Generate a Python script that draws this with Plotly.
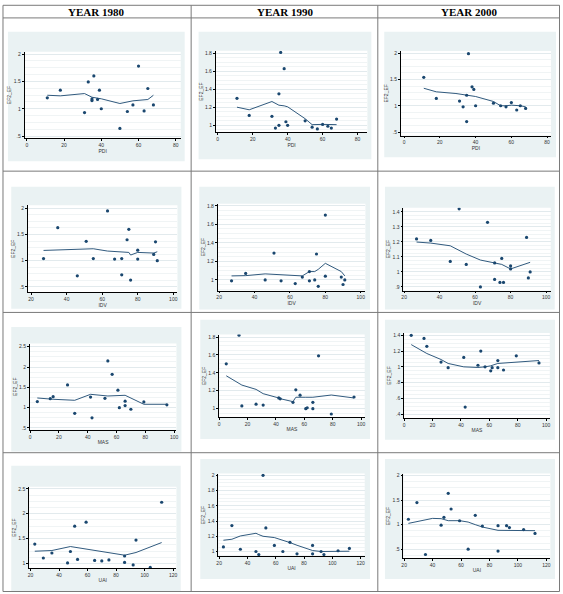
import numpy as np
import plotly.graph_objects as go

W, H = 563, 594
NAVY = "#1a476f"
BG = "#eaf2f3"

# ---------------- data ----------------
years = ["YEAR 1980", "YEAR 1990", "YEAR 2000"]
y_title = "EF2_EF"

pdi = [11, 18, 31, 33, 35, 35, 36, 38, 39, 40, 50, 54, 57, 60, 63, 65, 68]
idv = [27, 35, 46, 51, 55, 63, 67, 71, 71, 74, 75, 76, 80, 80, 89, 90, 91]
mas = [5, 14, 16, 26, 31, 42, 43, 52, 54, 57, 61, 62, 66, 66, 70, 79, 95]
uai = [23, 29, 35, 46, 48, 51, 53, 59, 65, 70, 75, 86, 86, 92, 94, 104, 112]

ef_pdi_1980 = [1.20, 1.34, 0.93, 1.49, 1.15, 1.18, 1.60, 1.17, 1.34, 1.00, 0.64, 0.95, 1.07, 1.78, 0.96, 1.37, 1.07]
ef_pdi_1990 = [1.30, 1.11, 1.10, 0.97, 1.00, 1.35, 1.81, 1.63, 1.04, 1.00, 1.05, 0.98, 0.96, 1.01, 0.99, 0.97, 1.07]
ef_pdi_2000 = [1.54, 1.14, 1.09, 0.98, 1.20, 0.70, 1.99, 1.36, 1.31, 1.00, 1.05, 1.00, 0.98, 1.06, 0.92, 1.00, 0.95]

ef_idv_1980 = [1.04, 1.63, 0.71, 1.37, 1.04, 1.95, 1.03, 1.04, 0.73, 1.40, 1.60, 0.63, 1.20, 1.03, 1.12, 1.36, 1.00]
ef_idv_1990 = [0.99, 1.07, 1.00, 1.29, 0.99, 0.96, 1.03, 1.09, 0.99, 1.00, 1.28, 0.93, 1.70, 1.04, 1.03, 0.95, 1.00]
ef_idv_2000 = [1.22, 1.21, 1.07, 1.42, 1.05, 0.90, 1.33, 1.06, 0.95, 0.93, 1.09, 0.93, 1.04, 1.02, 1.23, 0.96, 1.00]

ef_mas_1980 = [1.15, 1.22, 1.27, 1.56, 0.86, 1.26, 0.75, 1.23, 2.15, 1.82, 1.43, 1.00, 1.16, 1.05, 0.96, 1.14, 1.07]
ef_mas_1990 = [1.50, 1.82, 1.03, 1.05, 1.04, 1.12, 1.11, 1.07, 1.21, 1.15, 1.00, 1.01, 1.07, 1.00, 1.59, 0.94, 1.13]
ef_mas_2000 = [1.40, 1.36, 1.26, 1.06, 0.99, 1.12, 0.49, 1.02, 1.20, 1.00, 0.95, 0.99, 1.08, 0.99, 0.96, 1.14, 1.05]

ef_uai_1980 = [1.39, 1.11, 1.21, 1.01, 1.24, 1.75, 1.08, 1.83, 1.06, 1.05, 1.07, 1.15, 1.02, 0.97, 1.47, 0.92, 2.23]
ef_uai_1990 = [1.06, 1.34, 1.03, 1.00, 0.96, 2.00, 1.31, 1.08, 1.00, 1.12, 0.97, 1.08, 0.97, 1.00, 0.96, 1.01, 1.04]
ef_uai_2000 = [1.11, 1.45, 0.39, 0.99, 1.15, 1.64, 1.32, 1.08, 0.50, 1.19, 0.97, 0.98, 0.46, 0.98, 0.94, 0.90, 0.82]

# lowess curves
lw_pdi_1980_x = [11, 18, 31, 35, 40, 50, 57, 65, 68]
lw_pdi_1980_y = [1.247, 1.236, 1.278, 1.211, 1.182, 1.096, 1.145, 1.169, 1.247]
lw_pdi_1990_x = [11, 18, 31, 35, 38, 40, 50, 54, 60, 68]
lw_pdi_1990_y = [1.202, 1.173, 1.265, 1.224, 1.217, 1.206, 1.074, 1.008, 1.011, 1.008]
lw_pdi_2000_x = [11, 18, 29, 35, 40, 50, 54, 57, 60, 65, 68]
lw_pdi_2000_y = [1.333, 1.265, 1.233, 1.195, 1.176, 1.081, 1.0, 1.0, 1.012, 1.0, 0.98]

lw_idv_1980_x = [27, 35, 46, 55, 63, 71, 75, 76, 80, 89, 91]
lw_idv_1980_y = [1.196, 1.203, 1.215, 1.228, 1.184, 1.165, 1.158, 1.108, 1.158, 1.146, 1.171]
lw_idv_1990_x = [27, 35, 46, 55, 67, 71, 74, 76, 80, 89, 91]
lw_idv_1990_y = [1.043, 1.046, 1.065, 1.054, 1.043, 1.09, 1.09, 1.114, 1.179, 1.09, 1.043]
lw_idv_2000_x = [27, 35, 46, 55, 63, 71, 75, 80, 91]
lw_idv_2000_y = [1.199, 1.192, 1.174, 1.119, 1.079, 1.062, 1.05, 1.02, 1.064]

lw_mas_1980_x = [5, 16, 31, 42, 54, 66, 79, 95]
lw_mas_1980_y = [1.238, 1.206, 1.181, 1.328, 1.287, 1.304, 1.083, 1.083]
lw_mas_1990_x = [5, 16, 26, 31, 42, 43, 52, 54, 61, 66, 79, 95]
lw_mas_1990_y = [1.367, 1.263, 1.215, 1.167, 1.119, 1.111, 1.078, 1.127, 1.127, 1.127, 1.152, 1.119]
lw_mas_2000_x = [5, 16, 26, 31, 42, 52, 57, 61, 66, 79, 95]
lw_mas_2000_y = [1.282, 1.169, 1.093, 1.043, 1.0, 0.992, 1.0, 1.013, 1.043, 1.063, 1.08]

lw_uai_1980_x = [23, 35, 48, 59, 75, 86, 94, 112]
lw_uai_1980_y = [1.246, 1.26, 1.34, 1.292, 1.226, 1.166, 1.22, 1.42]
lw_uai_1990_x = [23, 29, 35, 46, 48, 51, 59, 65, 70, 75, 86, 92, 104, 112]
lw_uai_1990_y = [1.148, 1.161, 1.204, 1.239, 1.222, 1.2, 1.183, 1.152, 1.117, 1.082, 1.013, 1.0, 1.004, 1.004]
lw_uai_2000_x = [23, 29, 35, 40, 46, 51, 59, 65, 70, 75, 86, 94, 104, 112]
lw_uai_2000_y = [1.026, 1.067, 1.094, 1.128, 1.122, 1.081, 1.081, 1.053, 1.0, 0.951, 0.884, 0.884, 0.87, 0.877]

x_ticks_pdi = [0, 20, 40, 60, 80]
x_ticks_idv = [20, 40, 60, 80, 100]
x_ticks_mas = [0, 20, 40, 60, 80, 100]
x_ticks_uai = [20, 40, 60, 80, 100, 120]

y_ticks_a = [0.5, 1, 1.5, 2]
y_ticks_b = [1, 1.2, 1.4, 1.6, 1.8]
y_ticks_c = [0.9, 1, 1.1, 1.2, 1.3, 1.4]
y_ticks_d = [0.5, 1, 1.5, 2, 2.5]
y_ticks_e = [0.4, 0.6, 0.8, 1, 1.2, 1.4]
y_ticks_f = [1, 1.5, 2, 2.5]
y_ticks_g = [1, 1.2, 1.4, 1.6, 1.8, 2]

panels = [
    ("PDI", pdi, ef_pdi_1980, lw_pdi_1980_x, lw_pdi_1980_y, x_ticks_pdi, y_ticks_a),
    ("PDI", pdi, ef_pdi_1990, lw_pdi_1990_x, lw_pdi_1990_y, x_ticks_pdi, y_ticks_b),
    ("PDI", pdi, ef_pdi_2000, lw_pdi_2000_x, lw_pdi_2000_y, x_ticks_pdi, y_ticks_a),
    ("IDV", idv, ef_idv_1980, lw_idv_1980_x, lw_idv_1980_y, x_ticks_idv, y_ticks_a),
    ("IDV", idv, ef_idv_1990, lw_idv_1990_x, lw_idv_1990_y, x_ticks_idv, y_ticks_b),
    ("IDV", idv, ef_idv_2000, lw_idv_2000_x, lw_idv_2000_y, x_ticks_idv, y_ticks_c),
    ("MAS", mas, ef_mas_1980, lw_mas_1980_x, lw_mas_1980_y, x_ticks_mas, y_ticks_d),
    ("MAS", mas, ef_mas_1990, lw_mas_1990_x, lw_mas_1990_y, x_ticks_mas, y_ticks_b),
    ("MAS", mas, ef_mas_2000, lw_mas_2000_x, lw_mas_2000_y, x_ticks_mas, y_ticks_e),
    ("UAI", uai, ef_uai_1980, lw_uai_1980_x, lw_uai_1980_y, x_ticks_uai, y_ticks_f),
    ("UAI", uai, ef_uai_1990, lw_uai_1990_x, lw_uai_1990_y, x_ticks_uai, y_ticks_g),
    ("UAI", uai, ef_uai_2000, lw_uai_2000_x, lw_uai_2000_y, x_ticks_uai, y_ticks_a),
]

# ---------------- layout geometry (pixels) ----------------
# plot box: left, right, top, bottom ; x calib: value, px, px/unit ; y calib: value, px, px/unit
geoms = [
    (22.7, 180, 50, 137, 0, 25, 1.875, 1, 107.3, 55),
    (215.3, 368, 49, 131, 0, 217.3, 1.76, 1, 124, 90.5),
    (401.7, 553, 49.3, 134.3, 0, 405, 1.8, 1, 104.3, 52.9),
    (26, 176.7, 204.3, 291.7, 20, 29.3, 1.79, 1, 260, 52.6),
    (217.3, 366, 202.7, 290, 20, 218.7, 1.7825, 1, 279.3, 93),
    (404.3, 552.7, 206.7, 290, 20, 405, 1.7875, 1, 271.3, 151),
    (28, 175.7, 343.3, 430, 0, 28.3, 1.45, 1, 407.7, 40.8),
    (218.7, 365.3, 334.3, 417.3, 0, 218.7, 1.43, 1, 408.7, 90),
    (405, 551.7, 332.7, 418, 0, 405, 1.43, 1, 366.7, 79.3),
    (27.3, 175.7, 487.3, 569.3, 20, 28.7, 1.436, 1, 564.3, 50),
    (218, 365.3, 474, 557.3, 20, 218.7, 1.426, 1, 552.3, 76.6),
    (404.3, 552.3, 474, 559.3, 20, 405, 1.433, 1, 525.3, 49.2),
]
bg_boxes = [
    (6, 184, 30, 160), (198, 372, 30, 158), (385, 558, 30, 156),
    (9.3, 180.7, 185.7, 308.3), (198.7, 370.7, 185.7, 309), (385.7, 556.7, 185.7, 309),
    (9.3, 180.7, 326.7, 451.7), (199.7, 370.7, 319.3, 439.3), (385.7, 557, 319.3, 440),
    (9.3, 180, 466, 592), (199.7, 370.7, 459.3, 580), (385.7, 557, 459.3, 580),
]

def px(x):
    return x / W

def py(y):
    return 1 - y / H

def fmt(v):
    s = f"{v:g}"
    if s.startswith("0."):
        s = s[1:]
    return s

fig = go.Figure()
shapes = []
layout = {}
tick_font = dict(family="Liberation Sans, Arial", size=5, color="#333")

for i, ((var, xs, ys, lx, ly, xt, yt), g, bb) in enumerate(zip(panels, geoms, bg_boxes), start=1):
    xa = "x" if i == 1 else f"x{i}"
    ya = "y" if i == 1 else f"y{i}"
    left, right, top, bottom, x0v, x0p, xppu, y0v, y0p, yppu = g
    xr = [x0v + (left - x0p) / xppu, x0v + (right - x0p) / xppu]
    yr = [y0v - (bottom - y0p) / yppu, y0v + (y0p - top) / yppu]

    shapes.append(dict(type="rect", xref="paper", yref="paper", layer="below",
                       x0=px(bb[0]), x1=px(bb[1]), y0=py(bb[3]), y1=py(bb[2]),
                       fillcolor=BG, line=dict(width=0)))
    shapes.append(dict(type="rect", xref="paper", yref="paper", layer="below",
                       x0=px(left), x1=px(right), y0=py(bottom), y1=py(top),
                       fillcolor="white", line=dict(width=0)))

    fig.add_trace(go.Scatter(x=lx, y=ly, mode="lines", xaxis=xa, yaxis=ya,
                             line=dict(color=NAVY, width=0.9), showlegend=False))
    fig.add_trace(go.Scatter(x=xs, y=ys, mode="markers", xaxis=xa, yaxis=ya,
                             marker=dict(color=NAVY, size=3.2, line=dict(width=0)),
                             showlegend=False))

    ystep = yt[1] - yt[0]
    minor_vals = list(np.round(np.arange(yt[0] - ystep, yt[-1] + ystep, ystep / 4), 4))

    layout["xaxis" if i == 1 else f"xaxis{i}"] = dict(
        domain=[px(left), px(right)], range=xr, anchor=ya,
        tickmode="array", tickvals=xt, ticktext=[fmt(v) for v in xt],
        ticks="outside", ticklen=2, tickwidth=0.6, tickcolor="#000",
        showline=True, linecolor="#000", linewidth=0.7, showgrid=False, zeroline=False,
        tickfont=tick_font,
        title=dict(text=var, font=dict(family="Liberation Sans, Arial", size=5, color="#333"), standoff=1),
    )
    layout["yaxis" if i == 1 else f"yaxis{i}"] = dict(
        domain=[py(bottom), py(top)], range=yr, anchor=xa,
        tickmode="array", tickvals=yt, ticktext=[fmt(v) for v in yt],
        ticks="outside", ticklen=2, tickwidth=0.6, tickcolor="#000",
        showline=True, linecolor="#000", linewidth=0.7,
        showgrid=True, gridcolor="#e2eaed", gridwidth=0.6, zeroline=False,
        minor=dict(tickmode="array", tickvals=minor_vals, showgrid=True,
                   gridcolor="#f0f4f5", gridwidth=0.5, ticks=""),
        tickfont=tick_font,
        title=dict(text=y_title, font=dict(family="Liberation Sans, Arial", size=5, color="#333"), standoff=1),
    )

# table lines
LC = "#7a7a7a"
h_lines = [3.3, 16, 170, 312, 453, 592.5]
v_lines = [1, 190.5, 378.5, 561.5]
for yv in h_lines:
    shapes.append(dict(type="line", xref="paper", yref="paper", x0=px(v_lines[0]), x1=px(v_lines[-1]),
                       y0=py(yv), y1=py(yv), line=dict(color=LC, width=1), layer="above"))
for xv in v_lines:
    shapes.append(dict(type="line", xref="paper", yref="paper", x0=px(xv), x1=px(xv),
                       y0=py(h_lines[0]), y1=py(h_lines[-1]), line=dict(color=LC, width=1), layer="above"))

annotations = []
col_centers = [95, 285, 470]
for t, cx in zip(years, col_centers):
    annotations.append(dict(text=f"<b>{t}</b>", xref="paper", yref="paper", x=px(cx), y=py(10),
                            xanchor="center", yanchor="middle", showarrow=False,
                            font=dict(family="Liberation Serif, Times New Roman", size=11, color="#000")))

fig.update_layout(
    width=W, height=H, margin=dict(l=0, r=0, t=0, b=0),
    paper_bgcolor="white", plot_bgcolor="rgba(0,0,0,0)",
    shapes=shapes, annotations=annotations, showlegend=False,
    **layout,
)

fig.write_html("out.html")
